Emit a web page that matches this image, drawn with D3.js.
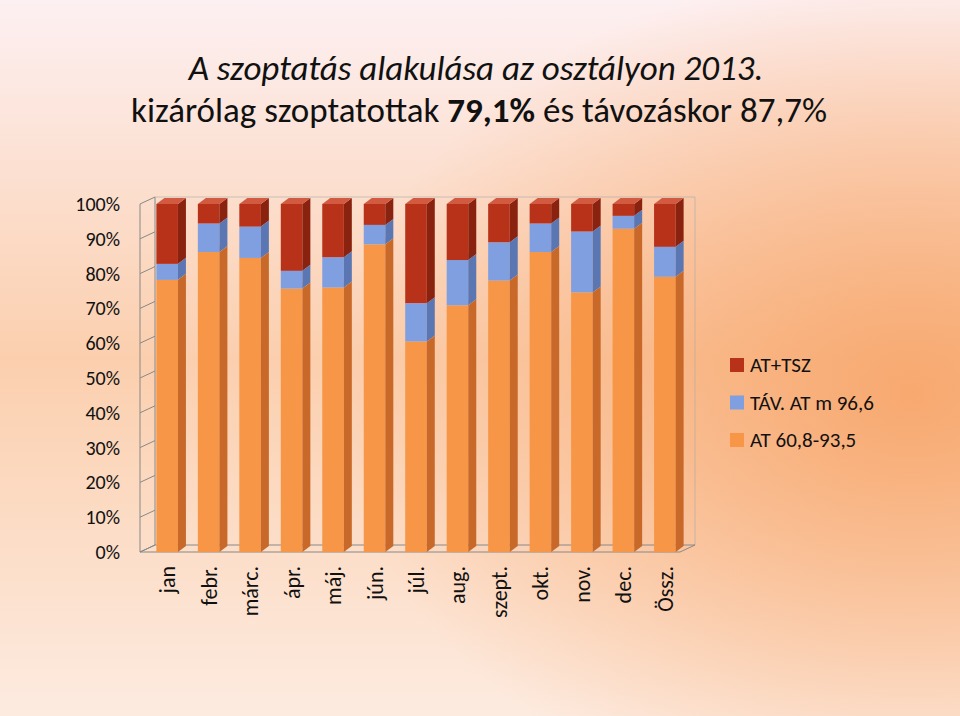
<!DOCTYPE html>
<html><head><meta charset="utf-8">
<script src="https://cdn.jsdelivr.net/npm/d3@7"></script>
<style>body{margin:0}svg{display:block;font-family:Carlito,Calibri,"Liberation Sans",sans-serif}</style>
</head><body>
<script>
const months = ["jan","febr.","márc.","ápr.","máj.","jún.","júl.","aug.","szept.","okt.","nov.","dec.","Össz."];
const at = [78.2,86.2,84.5,75.7,76.0,88.4,60.5,70.9,78.0,86.2,74.6,92.9,79.1];
const tav = [4.6,8.2,9.0,5.1,8.7,5.6,11.0,13.0,11.0,8.2,17.5,3.7,8.6];
const series = ["AT 60,8-93,5","TÁV. AT m 96,6","AT+TSZ"];
const yTicks = [0,10,20,30,40,50,60,70,80,90,100];

const W = 960, H = 716;
const svg = d3.select("body").append("svg").attr("width", W).attr("height", H);
const defs = svg.append("defs");
const lg = defs.append("linearGradient").attr("id","bg").attr("x1",0).attr("y1",0).attr("x2",0).attr("y2",1);
lg.append("stop").attr("offset","0").attr("stop-color","#fdf0f2");
lg.append("stop").attr("offset","0.5").attr("stop-color","#fbcfae");
lg.append("stop").attr("offset","1").attr("stop-color","#fdebe0");
const rg = defs.append("radialGradient").attr("id","glow").attr("cx",0.95).attr("cy",0.55).attr("r",0.6);
rg.append("stop").attr("offset","0").attr("stop-color","#f7a468").attr("stop-opacity",0.9);
rg.append("stop").attr("offset","1").attr("stop-color","#f7a468").attr("stop-opacity",0);
svg.append("rect").attr("width",W).attr("height",H).attr("fill","url(#bg)");
svg.append("rect").attr("width",W).attr("height",H).attr("fill","url(#glow)");

// title
svg.append("text").attr("x",476).attr("y",80).attr("text-anchor","middle").attr("font-size",35)
  .attr("font-style","italic").attr("fill","#111").text("A  szoptatás alakulása az osztályon 2013.");
const t2 = svg.append("text").attr("x",479).attr("y",122).attr("text-anchor","middle").attr("font-size",35).attr("fill","#111");
t2.append("tspan").text("kizárólag szoptatottak  ");
t2.append("tspan").attr("font-weight","bold").text("79,1%");
t2.append("tspan").text(" és távozáskor  87,7%");

const x0 = 140, x1 = 680, dx = 15, dy = -7, d3x = 8, d3y = -6;
const y = d3.scaleLinear().domain([0,100]).range([552, 204]);
const x = d3.scaleBand().domain(months).range([x0+6, x1+6]).paddingInner(0.48).paddingOuter(0.25);

// walls
const g = svg.append("g");
g.append("line").attr("x1",x0+dx).attr("y1",y(0)+dy).attr("x2",x0+dx).attr("y2",y(100)+dy).attr("stroke","#888");
g.append("line").attr("x1",x0+dx).attr("y1",y(100)+dy).attr("x2",x1+dx).attr("y2",y(100)+dy).attr("stroke","#aaa").attr("stroke-width",0.6);
g.append("line").attr("x1",x1+dx).attr("y1",y(100)+dy).attr("x2",x1+dx).attr("y2",y(0)+dy).attr("stroke","#aaa").attr("stroke-width",0.6);
yTicks.forEach(t => {
  g.append("line").attr("x1",x0).attr("y1",y(t)).attr("x2",x0+dx).attr("y2",y(t)+dy).attr("stroke","#888");
  g.append("text").attr("x",120).attr("y",y(t)+7).attr("text-anchor","end").attr("font-size",20).attr("fill","#111").text(t+"%");
});
g.append("line").attr("x1",x0).attr("y1",y(0)).attr("x2",x0).attr("y2",y(100)).attr("stroke","#888");
g.append("path").attr("d",`M${x0},${y(0)}L${x1},${y(0)}L${x1+dx},${y(0)+dy}L${x0+dx},${y(0)+dy}Z`)
  .attr("fill","none").attr("stroke","#888");

const cols = [
  {front:"#f79646", side:"#c8692a", top:"#fbb27c"},
  {front:"#7f9fe0", side:"#5a76b3", top:"#a9c0ee"},
  {front:"#b8321a", side:"#8a2210", top:"#d25a40"}
];
function box(gg, xl, w, v0, v1, c) {
  const yt = y(v1), yb = y(v0);
  gg.append("rect").attr("x",xl).attr("y",yt).attr("width",w).attr("height",yb-yt).attr("fill",c.front);
  gg.append("path").attr("d",`M${xl+w},${yb}L${xl+w+d3x},${yb+d3y}L${xl+w+d3x},${yt+d3y}L${xl+w},${yt}Z`).attr("fill",c.side);
  gg.append("path").attr("d",`M${xl},${yt}L${xl+d3x},${yt+d3y}L${xl+w+d3x},${yt+d3y}L${xl+w},${yt}Z`).attr("fill",c.top);
}
const bars = svg.append("g");
months.forEach((m,i) => {
  const xl = x(m), w = x.bandwidth();
  const a = at[i], b = at[i]+tav[i];
  box(bars, xl, w, 0, a, cols[0]);
  box(bars, xl, w, a, b, cols[1]);
  box(bars, xl, w, b, 100, cols[2]);
  svg.append("text").attr("transform",`translate(${xl+w/2+8},566) rotate(-90)`).attr("text-anchor","end")
    .attr("font-size",22).attr("fill","#111").text(m);
});

// legend
[2,1,0].forEach((s,k) => {
  const ly = 365 + k*37.5;
  svg.append("rect").attr("x",730).attr("y",ly-7).attr("width",14).attr("height",14).attr("fill",cols[s].front);
  svg.append("text").attr("x",750).attr("y",ly+7).attr("font-size",21).attr("fill","#111").text(series[s]);
});
</script>
</body></html>
